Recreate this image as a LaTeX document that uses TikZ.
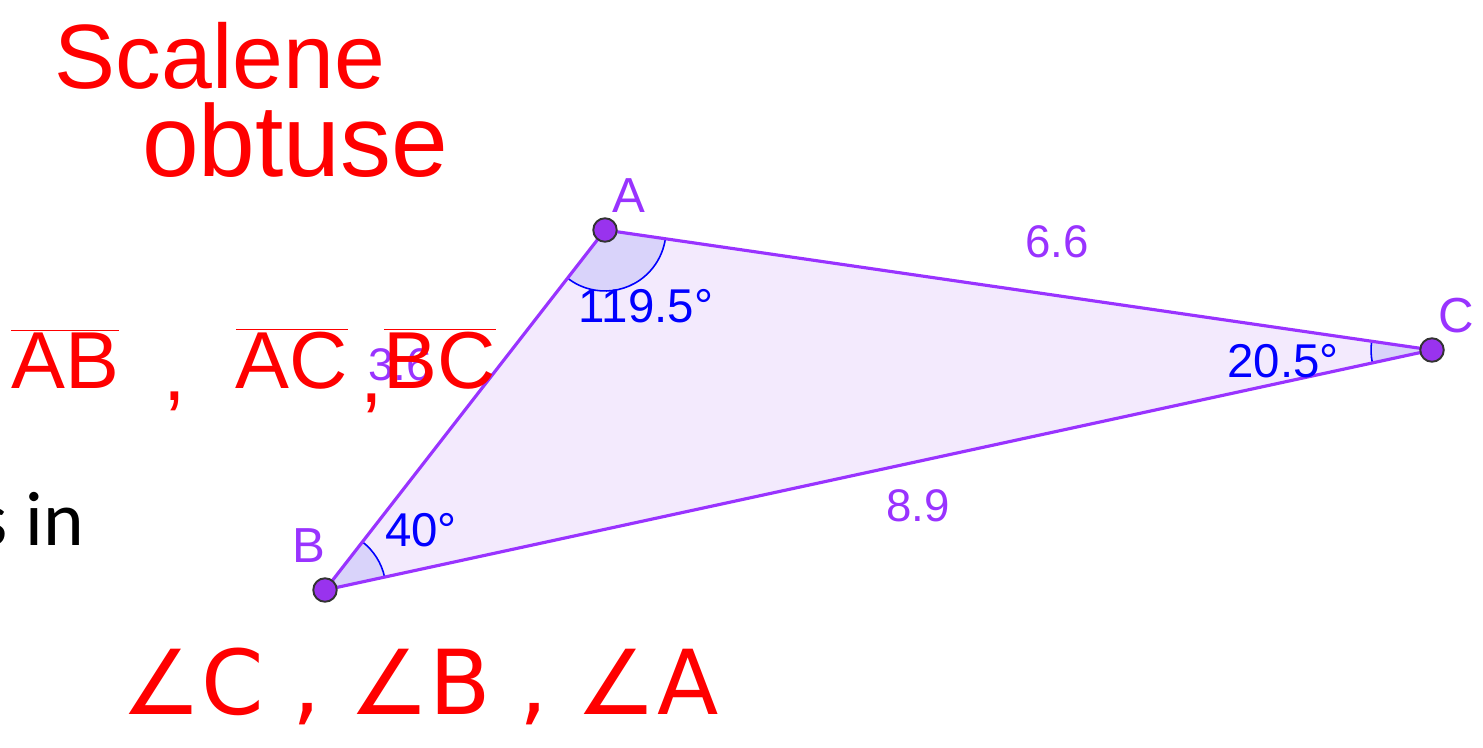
\documentclass[tikz,border=0pt]{standalone}
\usepackage{fontspec}
\setmainfont{Liberation Sans}
\newfontfamily\symfont{DejaVu Sans}
\newfontfamily\slidefont{Carlito}
\usetikzlibrary{angles}
\usepackage{xcolor}
\definecolor{ggline}{HTML}{9933FF}
\definecolor{ggfill}{HTML}{F3EAFD}
\definecolor{ggpoint}{HTML}{9933EE}
\definecolor{ptedge}{HTML}{333333}
\definecolor{angblue}{HTML}{0000FF}
\definecolor{angfill}{HTML}{D9D3FA}
\definecolor{ink}{HTML}{FF0000}
\tikzset{
  side/.style={draw=ggline, line width=1.8pt, line join=round},
  dot/.style={circle, draw=ptedge, fill=ggpoint, line width=1.1pt, minimum size=4.7mm, inner sep=0pt},
  ptlabel/.style={text=ggline, font=\fontsize{28}{32}\selectfont},
  lenlabel/.style={text=ggline, font=\fontsize{26}{30}\selectfont},
  anglabel/.style={text=angblue, font=\fontsize{27}{30}\selectfont},
  angmark/.style={draw=angblue, fill=angfill, line width=0.9pt, angle radius=1.22cm},
  handtext/.style={text=ink, font=\fontsize{#1}{#1}\selectfont},
  handtext/.default=46
}

\begin{document}
\begin{tikzpicture}[x=0.02cm, y=-0.02cm]
  \useasboundingbox (0,0) rectangle (1483,747);
  \coordinate (A) at (605,230);
  \coordinate (B) at (325,590);
  \coordinate (C) at (1432,350);
  \fill[ggfill] (A) -- (B) -- (C) -- cycle;
  \pic[angmark] {angle=B--A--C};
  \pic[angmark] {angle=C--B--A};
  \pic[angmark] {angle=A--C--B};
  \draw[side] (A) -- (B) -- (C) -- cycle;
  \node[dot] (pA) at (A) {};
  \node[dot] (pB) at (B) {};
  \node[dot] (pC) at (C) {};
  \node[ptlabel] (lA) at (629,196) {A};
  \node[ptlabel] (lB) at (309,546) {B};
  \node[ptlabel] (lC) at (1456,316) {C};
  \node[lenlabel] (sAC) at (1057,242) {6.6};
  \node[lenlabel] (sAB) at (400,365) {3.6};
  \node[lenlabel] (sBC) at (918,506) {8.9};
  \node[anglabel] (gA) at (646,306) {119.5°};
  \node[anglabel] (gB) at (421,530) {40°};
  \node[anglabel] (gC) at (1283,361) {20.5°};
  \node[anchor=base east, font=\slidefont\fontsize{44}{50}\selectfont] (cut) at (90,545) {s in};
  \node[handtext=52] (kind1) at (220,56) {Scalene};
  \node[handtext=58] (kind2) at (295,140) {obtuse};
  \node[handtext, anchor=base] (segAB) at (65,388) {$\overline{\mbox{AB}}$};
  \node[handtext, anchor=base] (com1) at (175,400) {,};
  \node[handtext, anchor=base] (segAC) at (292,388) {$\overline{\mbox{AC}}$};
  \node[handtext, anchor=base] (com2) at (372,402) {,};
  \node[handtext, anchor=base] (segBC) at (440,388) {$\overline{\mbox{BC}}$};
  \node[handtext=50, anchor=base, font=\symfont\fontsize{51}{51}\selectfont] (angs) at (420,714) {∠C , ∠B , ∠A};
\end{tikzpicture}
\end{document}
